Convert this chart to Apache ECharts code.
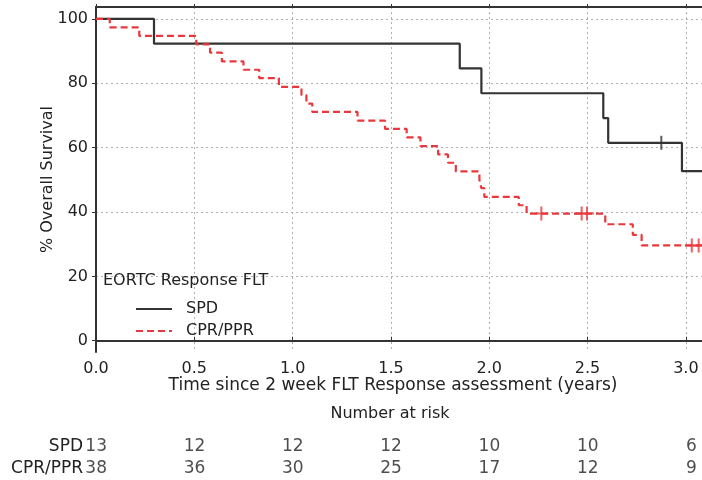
<!DOCTYPE html>
<html>
<head>
<meta charset="utf-8">
<script src="https://cdn.jsdelivr.net/npm/echarts@6/dist/echarts.min.js"></script>
<style>
  html, body { margin: 0; padding: 0; background: #fff; }
  #chart { width: 702px; height: 480px; }
</style>
</head>
<body>
<div id="chart"></div>
<script>
// Kaplan-Meier steps (time in years, % surviving)
const spdTimes = [0, 0.295, 1.85, 1.96, 2.58, 2.605, 2.98, 3.082]
const spdSurv = [100, 92.3, 84.6, 76.9, 69.2, 61.5, 52.7, 52.7]
const spdCensorTimes = [2.875]
const spdCensorSurv = [61.5]

const cprTimes = [0, 0.07, 0.22, 0.51, 0.58, 0.64, 0.75, 0.83, 0.93, 1.045, 1.07, 1.10, 1.33, 1.47,
  1.58, 1.65, 1.74, 1.79, 1.83, 1.95, 1.96, 1.975, 2.15, 2.19, 2.59, 2.73, 2.775, 3.082]
const cprSurv = [100, 97.4, 94.7, 92.1, 89.5, 86.8, 84.2, 81.6, 78.9, 76.3, 73.7, 71.1, 68.4, 65.8,
  63.2, 60.5, 57.9, 55.3, 52.6, 50.0, 47.4, 44.7, 42.1, 39.5, 36.2, 32.9, 29.6, 29.6]
const cprCensorTimes = [2.265, 2.47, 2.497, 3.03, 3.065]
const cprCensorSurv = [39.5, 39.5, 39.5, 29.6, 29.6]

// ticks
const xTicks = [0, 0.5, 1.0, 1.5, 2.0, 2.5, 3.0]
const yTicks = [0, 20, 40, 60, 80, 100]

// number at risk table
const riskGroups = ['SPD', 'CPR/PPR']
const riskTimes = [0, 0.5, 1.0, 1.5, 2.0, 2.5, 3.0]
const spdRisk = [13, 12, 12, 12, 10, 10, 6]
const cprRisk = [38, 36, 30, 25, 17, 12, 9]

const FONT = 'DejaVu Sans, sans-serif'
const RED = '#e8383d'
const DARK = '#333333'
const X_MAX = 3.082

const pairs = (xs, ys) => xs.map((x, i) => [x, ys[i]])

const chart = echarts.init(document.getElementById('chart'), null, { renderer: 'canvas' })

// number-at-risk row as text labels on the shared time scale
function riskRow (group, counts) {
  return {
    type: 'scatter', xAxisIndex: 2, yAxisIndex: 1,
    data: riskTimes.map((t, i) => [t, group, counts[i]]),
    symbolSize: 1, itemStyle: { color: 'transparent' },
    label: {
      show: true, position: 'inside', align: 'right', offset: [11, 0],
      fontFamily: FONT, fontSize: 17, color: '#222',
      formatter: p => String(p.value[2])
    }
  }
}

const option = {
  animation: false,
  textStyle: { fontFamily: FONT },
  title: [
    {
      text: 'EORTC Response FLT',
      left: 98, top: 268,
      textStyle: { fontFamily: FONT, fontSize: 16, fontWeight: 'normal', color: '#222' }
    },
    {
      text: 'Number at risk',
      left: 385, top: 401, textAlign: 'center',
      textStyle: { fontFamily: FONT, fontSize: 16, fontWeight: 'normal', color: '#222' }
    }
  ],
  legend: {
    left: 130, top: 296,
    orient: 'vertical',
    itemWidth: 36, itemHeight: 14, itemGap: 6,
    data: ['SPD', 'CPR/PPR'],
    itemStyle: { opacity: 0 },
    textStyle: { fontFamily: FONT, fontSize: 16, color: '#222', padding: [0, 0, 0, 9] }
  },
  grid: [
    { left: 96, right: 0, top: 7, bottom: 128 },
    { left: 96, right: 0, top: 436, bottom: 1 }
  ],
  xAxis: [
    {
      gridIndex: 0, type: 'value', min: 0, max: X_MAX,
      name: 'Time since 2 week FLT Response assessment (years)',
      nameLocation: 'middle', nameGap: 25, nameMoveOverlap: false,
      nameTextStyle: { fontFamily: FONT, fontSize: 17, color: '#222', padding: [0, 12, 0, 0] },
      axisLine: { lineStyle: { color: DARK, width: 2 } },
      axisTick: { show: true, inside: true, length: 4, customValues: xTicks, lineStyle: { color: DARK } },
      axisLabel: {
        customValues: xTicks, margin: 9,
        fontFamily: FONT, fontSize: 16, color: '#222',
        formatter: v => v.toFixed(1)
      },
      splitLine: { show: true, lineStyle: { color: '#b0b0b0', type: [2, 3], width: 1 } }
    },
    {
      gridIndex: 0, type: 'value', position: 'top', min: 0, max: X_MAX,
      axisLine: { lineStyle: { color: DARK, width: 2 } },
      axisTick: { show: true, length: 3, customValues: xTicks, lineStyle: { color: DARK } },
      axisLabel: { show: false },
      splitLine: { show: false }
    },
    {
      gridIndex: 1, type: 'value', min: 0, max: X_MAX, show: false
    }
  ],
  yAxis: [
    {
      gridIndex: 0, type: 'value', min: -3.5, max: 103.7,
      name: '% Overall Survival',
      nameLocation: 'middle', nameGap: 40, nameRotate: 90, nameMoveOverlap: false,
      nameTextStyle: { fontFamily: FONT, fontSize: 16, color: '#222' },
      axisLine: { show: true, lineStyle: { color: DARK, width: 2 } },
      axisTick: { show: true, length: 4, customValues: yTicks, lineStyle: { color: DARK } },
      axisLabel: { customValues: yTicks, margin: 8, fontFamily: FONT, fontSize: 16, color: '#222' },
      splitLine: { show: true, lineStyle: { color: '#b0b0b0', type: [2, 3], width: 1 } }
    },
    {
      gridIndex: 1, type: 'category', data: riskGroups, inverse: true,
      axisLine: { show: false }, axisTick: { show: false },
      axisLabel: { interval: 0, margin: 13, fontFamily: FONT, fontSize: 17, color: '#222' },
      splitLine: { show: false }
    }
  ],
  series: [
    {
      name: 'SPD', type: 'line', step: 'end',
      xAxisIndex: 0, yAxisIndex: 0,
      data: pairs(spdTimes, spdSurv),
      symbol: 'none', color: DARK,
      lineStyle: { color: DARK, width: 2.2 }, z: 3
    },
    {
      name: 'CPR/PPR', type: 'line', step: 'end',
      xAxisIndex: 0, yAxisIndex: 0,
      data: pairs(cprTimes, cprSurv),
      symbol: 'none', color: RED,
      lineStyle: { color: RED, width: 2.2, type: [7, 4] }, z: 3
    },
    // censor marks
    {
      type: 'scatter', xAxisIndex: 0, yAxisIndex: 0,
      data: pairs(spdCensorTimes, spdCensorSurv),
      symbol: 'path://M0,-1L0,1M-1,0L-1,0M1,0L1,0', symbolSize: [2, 14], symbolKeepAspect: false,
      itemStyle: { color: 'none', borderColor: DARK, borderWidth: 2 }, z: 4
    },
    {
      type: 'scatter', xAxisIndex: 0, yAxisIndex: 0,
      data: pairs(cprCensorTimes, cprCensorSurv),
      symbol: 'path://M0,-1L0,1M-1,0L1,0', symbolSize: 14,
      itemStyle: { color: 'none', borderColor: RED, borderWidth: 2 }, z: 4
    },
    riskRow('SPD', spdRisk),
    riskRow('CPR/PPR', cprRisk)
  ]
}

chart.setOption(option)
</script>
</body>
</html>
